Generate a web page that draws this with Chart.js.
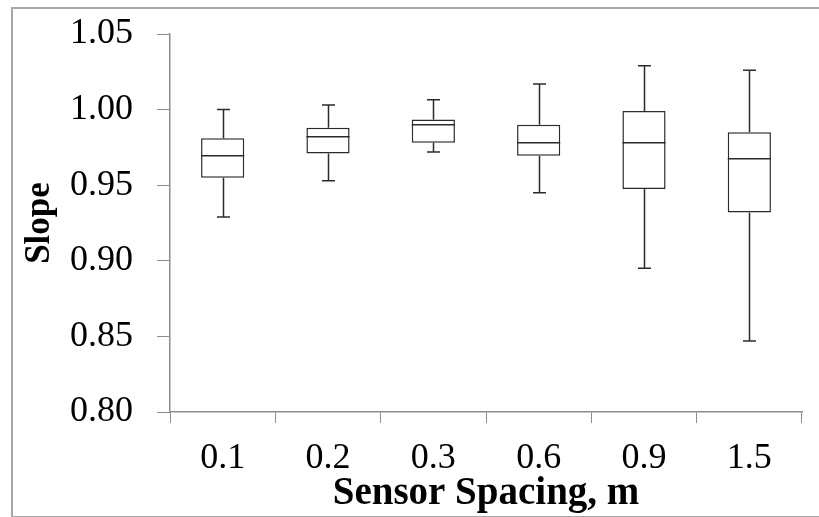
<!DOCTYPE html>
<html>
<head>
<meta charset="utf-8">
<script src="https://cdn.jsdelivr.net/npm/chart.js@4.4.1/dist/chart.umd.min.js"></script>
<style>
  body { margin: 0; background: #fff; }
  #frame { position: absolute; left: 11px; top: 7px; width: 900px; height: 507px; border: 2px solid #a6a6a6; }
  #wrap { position: absolute; left: 0; top: 0; width: 819px; height: 517px; }
</style>
</head>
<body>
<div id="frame"></div>
<div id="wrap"><canvas id="chart" width="819" height="517"></canvas></div>
<script>
// Box plot data
const spacings = ['0.1', '0.2', '0.3', '0.6', '0.9', '1.5'];
const whiskerLow = [0.929, 0.953, 0.972, 0.945, 0.895, 0.847];
const quartile1 = [0.955, 0.971, 0.978, 0.9695, 0.9475, 0.932];
const medians = [0.9695, 0.982, 0.990, 0.978, 0.978, 0.9675];
const quartile3 = [0.981, 0.988, 0.9935, 0.990, 0.999, 0.985];
const whiskerHigh = [1.000, 1.003, 1.0065, 1.017, 1.029, 1.026];
const yTicks = [0.80, 0.85, 0.90, 0.95, 1.00, 1.05];

const lineColor = '#2b2b2b';
const axisColor = '#8c8c8c';

// Draws whiskers, caps and median lines on top of the floating bars
const boxPlotPlugin = {
    id: 'boxPlot',
    afterDatasetsDraw(chart) {
        const ctx = chart.ctx;
        const y = chart.scales.y;
        const meta = chart.getDatasetMeta(0);
        ctx.save();
        ctx.strokeStyle = lineColor;
        ctx.lineWidth = 1.5;
        meta.data.forEach((bar, i) => {
            const cx = Math.round(bar.x) + 0.5;
            const half = bar.width / 2;
            const cap = 6.5;
            const pLow = y.getPixelForValue(whiskerLow[i]);
            const pQ1 = y.getPixelForValue(quartile1[i]);
            const pMed = y.getPixelForValue(medians[i]);
            const pQ3 = y.getPixelForValue(quartile3[i]);
            const pHigh = y.getPixelForValue(whiskerHigh[i]);
            ctx.beginPath();
            ctx.moveTo(cx, pQ3); ctx.lineTo(cx, pHigh);
            ctx.moveTo(cx - cap, pHigh); ctx.lineTo(cx + cap, pHigh);
            ctx.moveTo(cx, pQ1); ctx.lineTo(cx, pLow);
            ctx.moveTo(cx - cap, pLow); ctx.lineTo(cx + cap, pLow);
            ctx.moveTo(bar.x - half, pMed); ctx.lineTo(bar.x + half, pMed);
            ctx.stroke();
        });
        ctx.restore();
    }
};

new Chart(document.getElementById('chart'), {
    type: 'bar',
    data: {
        labels: spacings,
        datasets: [{
            data: spacings.map((s, i) => [quartile1[i], quartile3[i]]),
            backgroundColor: '#ffffff',
            borderColor: lineColor,
            borderWidth: 1.5,
            borderSkipped: false,
            barPercentage: 0.41,
            categoryPercentage: 1.0
        }]
    },
    options: {
        responsive: false,
        animation: false,
        layout: { padding: { top: 34, right: 17, bottom: 0, left: 0 } },
        plugins: {
            legend: { display: false },
            tooltip: { enabled: false }
        },
        scales: {
            x: {
                offset: true,
                grid: { offset: true, drawOnChartArea: false, drawTicks: true, tickLength: 11, color: axisColor },
                border: { color: axisColor, width: 1.5 },
                ticks: { color: '#000', padding: 14, font: { family: 'Liberation Serif', size: 36 } },
                title: {
                    display: true,
                    text: 'Sensor Spacing, m',
                    color: '#000',
                    font: { family: 'Liberation Serif', size: 39, weight: 'bold', lineHeight: 1.0 },
                    padding: { top: -4, bottom: 4 }
                },
                afterFit(scale) { scale.height = 105; }
            },
            y: {
                min: 0.80,
                max: 1.05,
                afterBuildTicks(scale) { scale.ticks = yTicks.map(v => ({ value: v })); },
                grid: { drawOnChartArea: false, drawTicks: true, tickLength: 13, color: axisColor },
                border: { color: axisColor, width: 1.5 },
                ticks: {
                    color: '#000',
                    padding: 24,
                    font: { family: 'Liberation Serif', size: 36 },
                    callback: v => Number(v).toFixed(2)
                },
                title: {
                    display: true,
                    text: 'Slope',
                    color: '#000',
                    font: { family: 'Liberation Serif', size: 35, weight: 'bold', lineHeight: 1.2 },
                    padding: { top: 19, bottom: 0 }
                },
                afterFit(scale) {
                    scale.width = 170;
                    scale.paddingTop = 0;
                    scale.paddingBottom = 0;
                }
            }
        }
    },
    plugins: [boxPlotPlugin]
});
</script>
</body>
</html>
